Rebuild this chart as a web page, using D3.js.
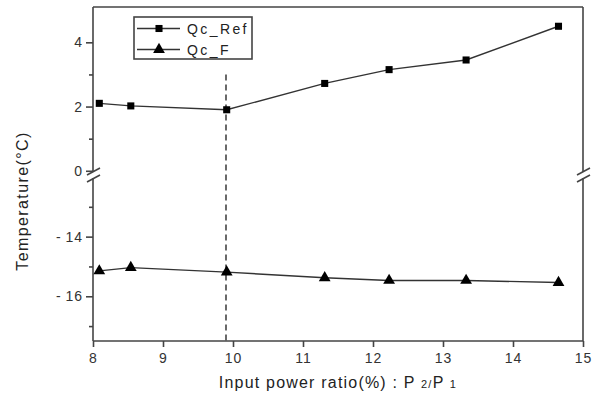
<!DOCTYPE html>
<html>
<head>
<meta charset="utf-8">
<script src="https://cdn.jsdelivr.net/npm/d3@7"></script>
<style>
  body { margin: 0; background: #fff; }
  svg { font-family: "Liberation Sans", Arial, sans-serif; }
  .axis path, .axis line { stroke: #444; }
  .axis text { fill: #333; font-size: 14px; letter-spacing: 1px; }
</style>
</head>
<body>
<svg id="chart" width="602" height="404"></svg>
<script>
// data
var ratio = [8.09, 8.54, 9.91, 11.31, 12.23, 13.33, 14.65];
var qcRef = [2.1, 2.02, 1.9, 2.72, 3.15, 3.45, 4.5];
var qcF = [-15.15, -15.04, -15.19, -15.38, -15.47, -15.47, -15.54];
var xTicks = [8, 9, 10, 11, 12, 13, 14, 15];
var upTicks = [0, 2, 4], upMinor = [1, 3];
var loTicks = [-14, -16], loMinor = [-13, -15, -17];
var markX = 9.9;
var seriesNames = ['Qc_Ref', 'Qc_F'];

var svg = d3.select('#chart');
var pLeft = 93, pRight = 583, pTop = 7, pBottom = 341, brk = 175;

var x = d3.scaleLinear().domain([8, 15]).range([pLeft, pRight]);
var yUp = d3.scaleLinear().domain([-0.1, 5.1]).range([brk - 1, pTop]);
var yLo = d3.scaleLinear().domain([-17.5, -12]).range([pBottom, brk + 2]);

var g = svg.append('g');

// axes frame
var frame = g.append('g').attr('stroke', '#444').attr('stroke-width', 1.6).attr('fill', 'none');
frame.append('line').attr('x1', pLeft).attr('x2', pRight).attr('y1', pTop).attr('y2', pTop);
frame.append('line').attr('x1', pLeft).attr('x2', pRight).attr('y1', pBottom).attr('y2', pBottom);
[pLeft, pRight].forEach(function(px) {
    frame.append('line').attr('x1', px).attr('x2', px).attr('y1', pTop).attr('y2', brk - 3);
    frame.append('line').attr('x1', px).attr('x2', px).attr('y1', brk + 3).attr('y2', pBottom);
    // break marks
    frame.append('line').attr('x1', px - 6).attr('x2', px + 7).attr('y1', brk).attr('y2', brk - 7);
    frame.append('line').attr('x1', px - 6).attr('x2', px + 7).attr('y1', brk + 7).attr('y2', brk);
});

// x axis
var xAxis = g.append('g').attr('class', 'axis').attr('transform', 'translate(0,' + pBottom + ')')
    .call(d3.axisBottom(x).tickValues(xTicks).tickSize(6).tickPadding(6).tickFormat(d3.format('d')));
xAxis.select('.domain').remove();
xAxis.selectAll('line').attr('stroke-width', 1.6);

function yAxis(scale, major, minor) {
    var a = g.append('g').attr('class', 'axis').attr('transform', 'translate(' + pLeft + ',0)')
        .call(d3.axisLeft(scale).tickValues(major).tickSize(7).tickPadding(3).tickFormat(d3.format('d')));
    a.select('.domain').remove();
    a.selectAll('line').attr('stroke-width', 1.6);
    a.selectAll('text').text(function(d) { return d < 0 ? '-\u2009' + Math.abs(d) : d; });
    var m = g.append('g').attr('class', 'axis').attr('transform', 'translate(' + pLeft + ',0)')
        .call(d3.axisLeft(scale).tickValues(minor).tickSize(4).tickFormat(''));
    m.select('.domain').remove();
    m.selectAll('line').attr('stroke-width', 1.6);
}
yAxis(yUp, upTicks, upMinor);
yAxis(yLo, loTicks, loMinor);

// dashed marker line
g.append('line')
    .attr('x1', x(markX)).attr('x2', x(markX))
    .attr('y1', yUp(3.0)).attr('y2', pBottom)
    .attr('stroke', '#444').attr('stroke-width', 1.6).attr('stroke-dasharray', '6,4');

// series
var refPts = ratio.map(function(d, i) { return [x(d), yUp(qcRef[i])]; });
var fPts = ratio.map(function(d, i) { return [x(d), yLo(qcF[i])]; });
var line = d3.line();
g.append('path').attr('d', line(refPts)).attr('fill', 'none').attr('stroke', '#333').attr('stroke-width', 1.4);
g.append('path').attr('d', line(fPts)).attr('fill', 'none').attr('stroke', '#333').attr('stroke-width', 1.4);

var sq = d3.symbol().type(d3.symbolSquare).size(50);
var tri = d3.symbol().type(d3.symbolTriangle).size(60);
g.selectAll('.sq').data(refPts).enter().append('path').attr('class', 'sq')
    .attr('d', sq).attr('transform', function(d) { return 'translate(' + d[0] + ',' + d[1] + ')'; })
    .attr('fill', '#000');
g.selectAll('.tri').data(fPts).enter().append('path').attr('class', 'tri')
    .attr('d', tri).attr('transform', function(d) { return 'translate(' + d[0] + ',' + d[1] + ')'; })
    .attr('fill', '#000');

// legend
var lg = g.append('g');
lg.append('rect').attr('x', 134).attr('y', 17).attr('width', 118).attr('height', 42)
    .attr('fill', '#fff').attr('stroke', '#444').attr('stroke-width', 1.6);
seriesNames.forEach(function(name, i) {
    var ly = 28.5 + i * 21;
    lg.append('line').attr('x1', 137).attr('x2', 180).attr('y1', ly).attr('y2', ly)
        .attr('stroke', '#333').attr('stroke-width', 1.4);
    lg.append('path').attr('d', i === 0 ? sq : tri)
        .attr('transform', 'translate(159,' + ly + ')').attr('fill', '#000');
    lg.append('text').attr('x', 187).attr('y', ly + 5).text(name)
        .attr('font-size', 14).attr('letter-spacing', 2.4).attr('fill', '#222');
});

// titles
var xt = svg.append('text').attr('x', (pLeft + pRight) / 2).attr('y', 388)
    .attr('text-anchor', 'middle').attr('font-size', 16).attr('letter-spacing', 1.2).attr('fill', '#222');
xt.append('tspan').text('Input power ratio(%) : P ');
xt.append('tspan').attr('font-size', 11).text('2/');
xt.append('tspan').text('P ');
xt.append('tspan').attr('font-size', 11).text('1');

svg.append('text').attr('transform', 'translate(28,201) rotate(-90)')
    .attr('text-anchor', 'middle').attr('font-size', 16).attr('letter-spacing', 1.4).attr('fill', '#222')
    .text('Temperature(°C)');
</script>
</body>
</html>
